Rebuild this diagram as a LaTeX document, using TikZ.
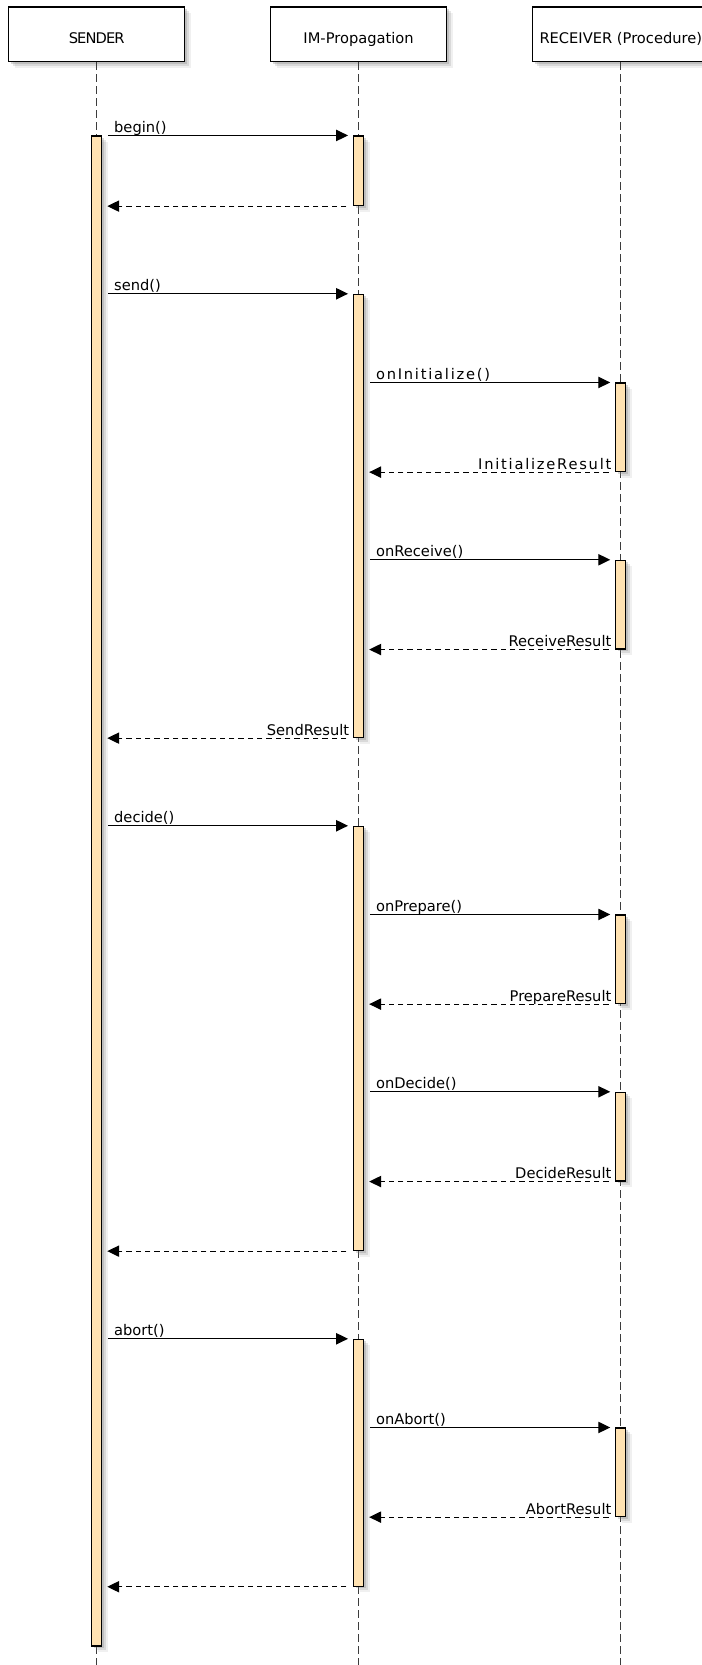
\documentclass[tikz,border=0pt]{standalone}
\usepackage{fontspec}
\setmainfont{DejaVu Sans}
\usetikzlibrary{arrows.meta,shadows,fit}

\definecolor{barfill}{RGB}{255,226,178}
\definecolor{lifegray}{RGB}{60,60,60}

\tikzset{
  soft/.style={
    drop shadow={shadow xshift=1.5pt, shadow yshift=-1.5pt, opacity=0.3},
    drop shadow={shadow xshift=3pt, shadow yshift=-3pt, opacity=0.2},
    drop shadow={shadow xshift=4.5pt, shadow yshift=-4.5pt, opacity=0.12}},
  head/.style={draw, fill=white, line width=0.9pt, minimum width=132pt, minimum height=41pt,
    text height=13.7pt, text depth=0pt, font=\fontsize{11}{13}\selectfont, soft},
  bar/.style={draw, fill=barfill, line width=0.8pt, inner sep=0pt, minimum width=7.5pt, soft},
  life/.style={draw=lifegray, line width=1pt, dash pattern=on 6pt off 3pt},
  call/.style={-{Triangle[length=9pt,width=8.5pt]}, line width=0.9pt,
    shorten <=4.5pt, shorten >=3.75pt},
  ret/.style={call, dash pattern=on 4pt off 3pt, shorten <=5pt},
  msg/.style={font=\fontsize{11}{13}\selectfont, inner sep=0pt, yshift=2.2pt},
  callmsg/.style={msg, anchor=base west, pos=0, xshift=8.5pt},
  retmsg/.style={msg, anchor=base east, pos=0, xshift=-2.5pt},
  wide/.style={font=\fontsize{11}{13}\selectfont\addfontfeature{LetterSpace=12}}
}

\begin{document}
\begin{tikzpicture}[x=0.75pt, y=-0.75pt]
  \useasboundingbox (0,0) rectangle (702,1665);
  \coordinate (bot) at (0,1665);

  % lifelines
  \node[head] (snd) at (96.7,34.3) {\addfontfeature{LetterSpace=-6}SENDER};
  \node[head] (imp) at (358.6,34.3) {IM-Propagation};
  \node[head] (rcv) at (620.8,34.3) {RECEIVER (Procedure)};
  \draw[life] (snd.south) -- (snd.south |- bot);
  \draw[life] (imp.south) -- (imp.south |- bot);
  \draw[life] (rcv.south) -- (rcv.south |- bot);

  % activations
  \node[bar, fit={(96.7,136) (96.7,1646)}] (sb) {};
  \node[bar, fit={(358.6,136) (358.6,205.6)}] (ib1) {};
  \node[bar, fit={(358.6,294.3) (358.6,737.6)}] (ib2) {};
  \node[bar, fit={(358.6,826.3) (358.6,1250.6)}] (ib3) {};
  \node[bar, fit={(358.6,1339.3) (358.6,1586.2)}] (ib4) {};
  \node[bar, fit={(620.8,383) (620.8,471.6)}] (rb1) {};
  \node[bar, fit={(620.8,560.3) (620.8,649)}] (rb2) {};
  \node[bar, fit={(620.8,915) (620.8,1003.6)}] (rb3) {};
  \node[bar, fit={(620.8,1092.3) (620.8,1181)}] (rb4) {};
  \node[bar, fit={(620.8,1428) (620.8,1516.6)}] (rb5) {};

  % begin
  \draw[call] (sb.east |- ib1.north) -- (ib1.north west) node[callmsg] (mbegin) {begin()};
  \draw[ret] (ib1.south west) -- (sb.east |- ib1.south);

  % send
  \draw[call] (sb.east |- ib2.north) -- (ib2.north west) node[callmsg] (msend) {send()};
  \draw[call] (ib2.east |- rb1.north) -- (rb1.north west)
    node[callmsg, wide] (minit) {onInitialize()};
  \draw[ret] (rb1.south west) -- (ib2.east |- rb1.south)
    node[retmsg, wide] (rinit) {InitializeResult};
  \draw[call] (ib2.east |- rb2.north) -- (rb2.north west) node[callmsg] (mrecv) {onReceive()};
  \draw[ret] (rb2.south west) -- (ib2.east |- rb2.south) node[retmsg] (rrecv) {ReceiveResult};
  \draw[ret] (ib2.south west) -- (sb.east |- ib2.south) node[retmsg] (rsend) {SendResult};

  % decide
  \draw[call] (sb.east |- ib3.north) -- (ib3.north west) node[callmsg] (mdecide) {decide()};
  \draw[call] (ib3.east |- rb3.north) -- (rb3.north west) node[callmsg] (mprep) {onPrepare()};
  \draw[ret] (rb3.south west) -- (ib3.east |- rb3.south) node[retmsg] (rprep) {PrepareResult};
  \draw[call] (ib3.east |- rb4.north) -- (rb4.north west) node[callmsg] (mdec) {onDecide()};
  \draw[ret] (rb4.south west) -- (ib3.east |- rb4.south) node[retmsg] (rdec) {DecideResult};
  \draw[ret] (ib3.south west) -- (sb.east |- ib3.south);

  % abort
  \draw[call] (sb.east |- ib4.north) -- (ib4.north west) node[callmsg] (mabort) {abort()};
  \draw[call] (ib4.east |- rb5.north) -- (rb5.north west) node[callmsg] (mabrt) {onAbort()};
  \draw[ret] (rb5.south west) -- (ib4.east |- rb5.south) node[retmsg] (rabrt) {AbortResult};
  \draw[ret] (ib4.south west) -- (sb.east |- ib4.south);
\end{tikzpicture}
\end{document}
